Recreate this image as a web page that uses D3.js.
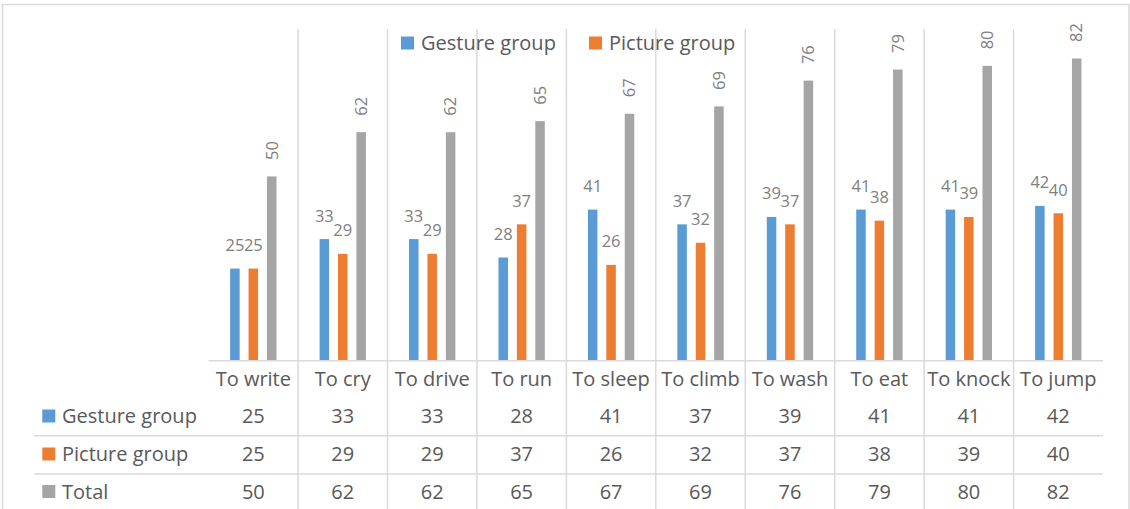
<!DOCTYPE html>
<html>
<head>
<meta charset="utf-8">
<script src="https://cdn.jsdelivr.net/npm/d3@7"></script>
<style>
  body { margin: 0; background: #fff; }
  svg { display: block; font-family: "Open Sans", sans-serif; }
</style>
</head>
<body>
<div id="chart"></div>
<script>
// data
const categories = ["To write", "To cry", "To drive", "To run", "To sleep", "To climb", "To wash", "To eat", "To knock", "To jump"];
const seriesNames = ["Gesture group", "Picture group", "Total"];
const gesture = [25, 33, 33, 28, 41, 37, 39, 41, 41, 42];
const picture = [25, 29, 29, 37, 26, 32, 37, 38, 39, 40];
const total = [50, 62, 62, 65, 67, 69, 76, 79, 80, 82];
const colors = ["#5b9bd5", "#ed7d31", "#a5a5a5"];

const width = 1130, height = 509;
const plot = {left: 208.6, right: 1103, top: 29, bottom: 360.7};
const gridColor = "#d9d9d9";
const labelColor = "#808080";
const textColor = "#595959";

const seriesData = [gesture, picture, total];

const svg = d3.select("#chart").append("svg")
    .attr("width", width)
    .attr("height", height);

// chart border
svg.append("rect")
    .attr("x", 2.5).attr("y", 4.5)
    .attr("width", 1126.5).attr("height", 520)
    .attr("fill", "#fff")
    .attr("stroke", gridColor)
    .attr("stroke-width", 1.5);

const x = d3.scaleBand()
    .domain(categories)
    .range([plot.left, plot.right])
    .padding(0);

const xInner = d3.scaleBand()
    .domain(seriesNames)
    .range([0, x.bandwidth()])
    .paddingInner(0.484)
    .paddingOuter(1.17);

const y = d3.scaleLinear()
    .domain([0, 90])
    .range([plot.bottom, plot.top]);

// vertical gridlines between categories, running down through the table
svg.append("g")
    .selectAll("line")
    .data(categories.slice(1))
    .join("line")
    .attr("x1", d => x(d)).attr("x2", d => x(d))
    .attr("y1", plot.top).attr("y2", height)
    .attr("stroke", gridColor)
    .attr("stroke-width", 1.5);

// legend at top
const legend = svg.append("g").attr("font-size", 20).attr("fill", textColor);
const legendX = [401, 589];
seriesNames.slice(0, 2).forEach((name, i) => {
  legend.append("rect")
      .attr("x", legendX[i]).attr("y", 36.5)
      .attr("width", 13).attr("height", 13)
      .attr("fill", colors[i]);
  legend.append("text")
      .attr("x", legendX[i] + 20).attr("y", 43)
      .attr("dy", "0.35em")
      .text(name);
});

// bars
seriesData.forEach((vals, si) => {
  const g = svg.append("g");
  g.selectAll("rect")
    .data(vals)
    .join("rect")
    .attr("x", (d, i) => x(categories[i]) + xInner(seriesNames[si]))
    .attr("y", d => y(d))
    .attr("width", xInner.bandwidth())
    .attr("height", d => y(0) - y(d))
    .attr("fill", colors[si]);

  if (si < 2) {
    g.selectAll("text")
      .data(vals)
      .join("text")
      .attr("x", (d, i) => x(categories[i]) + xInner(seriesNames[si]) + xInner.bandwidth() / 2)
      .attr("y", d => y(d) - 17.5)
      .attr("text-anchor", "middle")
      .attr("font-size", 16.5)
      .attr("fill", labelColor)
      .text(d => d);
  } else {
    g.selectAll("text")
      .data(vals)
      .join("text")
      .attr("transform", (d, i) => {
        const cx = x(categories[i]) + xInner(seriesNames[si]) + xInner.bandwidth() / 2;
        return "translate(" + cx + "," + (y(d) - 16.5) + ") rotate(-90)";
      })
      .attr("dy", "0.35em")
      .attr("font-size", 16.5)
      .attr("fill", labelColor)
      .text(d => d);
  }
});

// baseline / table top
svg.append("line")
    .attr("x1", plot.left).attr("x2", plot.right)
    .attr("y1", plot.bottom).attr("y2", plot.bottom)
    .attr("stroke", gridColor)
    .attr("stroke-width", 1.5);

// data table
const rowY = [416, 454, 491.5];
const sepY = [435.7, 474];
const table = svg.append("g").attr("font-size", 20).attr("fill", textColor);

table.selectAll("text.cat")
    .data(categories)
    .join("text")
    .attr("class", "cat")
    .attr("x", d => x(d) + x.bandwidth() / 2)
    .attr("y", 379)
    .attr("dy", "0.35em")
    .attr("text-anchor", "middle")
    .text(d => d);

sepY.forEach(sy => {
  table.append("line")
      .attr("x1", 34).attr("x2", plot.right)
      .attr("y1", sy).attr("y2", sy)
      .attr("stroke", gridColor)
      .attr("stroke-width", 1.5);
});

seriesData.forEach((vals, si) => {
  table.append("rect")
      .attr("x", 42.3).attr("y", rowY[si] - 6.5)
      .attr("width", 13).attr("height", 13)
      .attr("fill", colors[si]);
  table.append("text")
      .attr("x", 62).attr("y", rowY[si])
      .attr("dy", "0.35em")
      .text(seriesNames[si]);
  table.append("g")
    .selectAll("text")
    .data(vals)
    .join("text")
    .attr("x", (d, i) => x(categories[i]) + x.bandwidth() / 2)
    .attr("y", rowY[si])
    .attr("dy", "0.35em")
    .attr("text-anchor", "middle")
    .text(d => d);
});
</script>
</body>
</html>
